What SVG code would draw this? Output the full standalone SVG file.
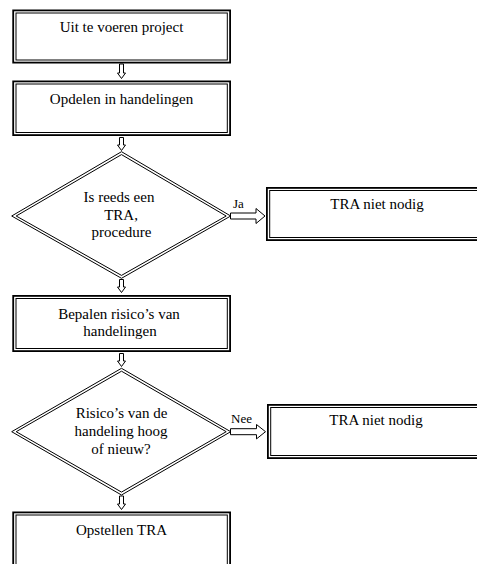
<svg xmlns="http://www.w3.org/2000/svg" width="477" height="564" viewBox="0 0 477 564">
<style>
.o{fill:#fff;stroke:#000;stroke-width:1.8}
.i{fill:none;stroke:#000;stroke-width:1}
.d{fill:none;stroke:#000;stroke-width:1}
.t{font-family:"Liberation Serif","Times New Roman",serif;font-size:15px;fill:#000;text-anchor:middle}
.s{font-family:"Liberation Serif","Times New Roman",serif;font-size:13px;fill:#000}
.a{fill:#fff;stroke:#000;stroke-width:1}
</style>
<rect width="477" height="564" fill="#fff"/>
<g id="n1">
<rect class="o" x="13.2" y="10.4" width="216.9" height="52.2"/>
<rect class="i" x="16" y="13" width="211.3" height="47"/>
<text class="t" x="121.5" y="32">Uit te voeren project</text>
</g>
<g id="n2">
<rect class="o" x="13.2" y="81.4" width="216.9" height="53.7"/>
<rect class="i" x="16" y="84" width="211.3" height="48.5"/>
<text class="t" x="121.5" y="103.5">Opdelen in handelingen</text>
</g>
<g id="n3">
<polygon class="d" points="121.5,151.7 230.7,216 121.5,278.3 11.7,216"/>
<polygon class="d" points="121.5,154.6 226.2,216 121.5,275.4 16.2,216"/>
<text class="t" x="119" y="202">Is reeds een</text>
<text class="t" x="121" y="219.5">TRA,</text>
<text class="t" x="121.5" y="237">procedure</text>
</g>
<g id="n4">
<rect class="o" x="266.9" y="187.9" width="230" height="52.2"/>
<rect class="i" x="269.7" y="190.5" width="230" height="47"/>
<text class="t" x="377" y="208.5">TRA niet nodig</text>
</g>
<g id="n5">
<rect class="o" x="13.2" y="295.9" width="216.9" height="55.2"/>
<rect class="i" x="16" y="298.5" width="211.3" height="50"/>
<text class="t" x="119" y="319">Bepalen risico’s van</text>
<text class="t" x="120" y="336">handelingen</text>
</g>
<g id="n6">
<polygon class="d" points="121.5,368.3 230.7,431.7 121.5,495 11.7,431.7"/>
<polygon class="d" points="121.5,371.2 226.2,431.7 121.5,492.1 16.2,431.7"/>
<text class="t" x="121.5" y="418">Risico’s van de</text>
<text class="t" x="121" y="436">handeling hoog</text>
<text class="t" x="121" y="454">of nieuw?</text>
</g>
<g id="n7">
<rect class="o" x="267.9" y="404.9" width="230" height="53.2"/>
<rect class="i" x="270.7" y="407.5" width="230" height="48"/>
<text class="t" x="376" y="425">TRA niet nodig</text>
</g>
<g id="n8">
<rect class="o" x="13.2" y="512.4" width="216.9" height="60"/>
<rect class="i" x="16" y="515" width="211.3" height="60"/>
<text class="t" x="121.5" y="535">Opstellen TRA</text>
</g>
<g id="connectors">
<polygon class="a" points="119.5,64 123.5,64 123.5,73 125.5,73 121.5,78.5 117.5,73 119.5,73"/>
<polygon class="a" points="119.5,137.5 123.5,137.5 123.5,145 125.5,145 121.5,150.5 117.5,145 119.5,145"/>
<polygon class="a" points="119.5,279.5 123.5,279.5 123.5,287 125.5,287 121.5,292.5 117.5,287 119.5,287"/>
<polygon class="a" points="119.5,353.5 123.5,353.5 123.5,361 125.5,361 121.5,366.5 117.5,361 119.5,361"/>
<polygon class="a" points="119.5,496 123.5,496 123.5,504 125.5,504 121.5,509.5 117.5,504 119.5,504"/>
<polygon class="a" points="230.5,213 256,213 256,208.5 265,216 256,223.5 256,219 230.5,219"/>
<polygon class="a" points="230.5,428.7 256.5,428.7 256.5,424.5 265.5,431.7 256.5,438.9 256.5,434.7 230.5,434.7"/>
<text class="s" x="233" y="208">Ja</text>
<text class="s" x="231" y="422.5">Nee</text>
</g>
</svg>
